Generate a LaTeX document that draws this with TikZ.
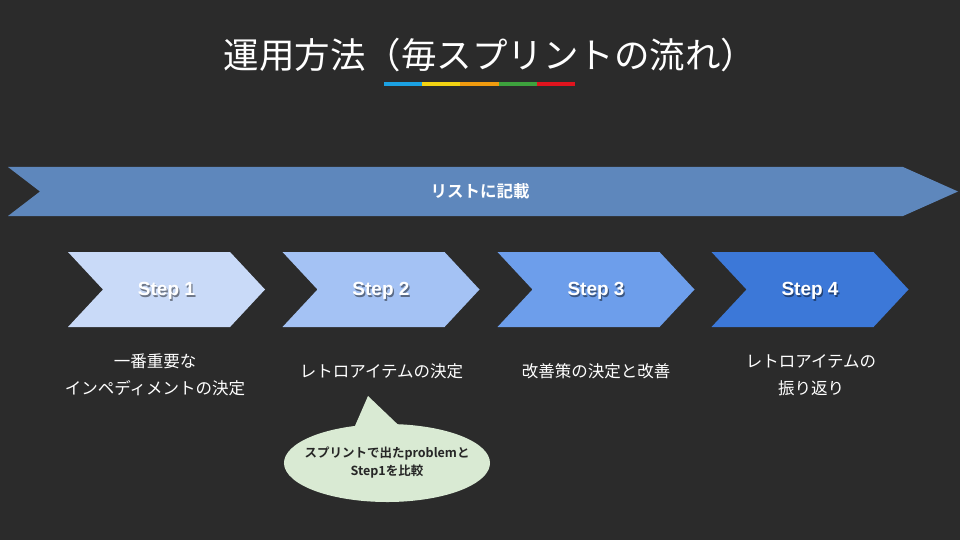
\documentclass[tikz,border=0pt]{standalone}
\usepackage{fontspec}
\setmainfont{Liberation Sans}
\newfontfamily\jp[BoldFont={Noto Sans CJK JP Bold}]{Noto Sans CJK JP}
\usepackage{xcolor}
\usetikzlibrary{shapes.symbols,shapes.callouts,positioning}

\definecolor{bgdark}{HTML}{2B2B2B}
\definecolor{bandblue}{HTML}{5E87BC}
\definecolor{stepA}{HTML}{C9DAF8}
\definecolor{stepB}{HTML}{A4C2F4}
\definecolor{stepC}{HTML}{6D9EEB}
\definecolor{stepD}{HTML}{3C78D8}
\definecolor{notegreen}{HTML}{D9EAD3}
\definecolor{lineA}{HTML}{1BA1E2}
\definecolor{lineB}{HTML}{F2D313}
\definecolor{lineC}{HTML}{F09B0F}
\definecolor{lineD}{HTML}{3DA23D}
\definecolor{lineE}{HTML}{E0141E}

\begin{document}
\begin{tikzpicture}[
        x=1pt,y=-1pt,
        stepbox/.style={signal,signal from=west,signal to=east,signal pointer angle=94,
            minimum width=197pt,minimum height=75pt,inner sep=0pt,draw=none},
        steptext/.style={font=\bfseries\fontsize{19}{22}\selectfont,text=white},
        stepshadow/.style={font=\bfseries\fontsize{19}{22}\selectfont,text=black,opacity=0.45},
        lbl/.style={font=\jp\fontsize{16.5}{27}\selectfont,text=white,align=center},
        bubble/.style={ellipse callout,fill=notegreen,minimum width=206pt,minimum height=78pt,
            inner xsep=-12pt,inner ysep=0pt,callout pointer arc=24,
            align=center,font=\jp\bfseries\fontsize{12.5}{18}\selectfont,text=black!85}
    ]
        % 背景
        \fill[bgdark] (0,0) rectangle (960,540);
        \useasboundingbox (0,0) rectangle (960,540);

        % タイトル
        \node[text=white,font=\jp\fontsize{35.5}{40}\selectfont] (title) at (490,55) {運用方法（毎スプリントの流れ）};
        \foreach \c [count=\k from 0] in {lineA,lineB,lineC,lineD,lineE}
            \fill[\c] (384+38.2*\k,82) rectangle (384+38.2*\k+38.2,86);

        % 全体の矢印
        \fill[bandblue] (8,167) -- (903,167) -- (958,191.5) -- (903,216) -- (8,216) -- (40,191.5) -- cycle;
        \node[text=white,font=\jp\bfseries\fontsize{16.5}{20}\selectfont] (list) at (480,191.5) {リストに記載};

        % ステップ
        \foreach \i/\x/\c in {1/166.5/stepA,2/381/stepB,3/596/stepC,4/810/stepD}{
            \node[stepbox,fill=\c] (s\i) at (\x,289.5) {};
            \node[stepshadow] at ([shift={(1.2,3.3)}]s\i.center) {Step \i};
            \node[steptext] (t\i) at ([yshift=-1.5pt]s\i.center) {Step \i};
        }

        % 説明
        \node[lbl] (l1) at (155,375) {一番重要な\\インペディメントの決定};
        \node[lbl] (l2) at (381.5,371) {レトロアイテムの決定};
        \node[lbl] (l3) at (596,371) {改善策の決定と改善};
        \node[lbl] (l4) at (811,375) {レトロアイテムの\\振り返り};

        % 吹き出し
        \node[bubble,callout absolute pointer={(368,396)}] (note) at (387,463) {スプリントで出たproblemと\\Step1を比較};

    \end{tikzpicture}
\end{document}
